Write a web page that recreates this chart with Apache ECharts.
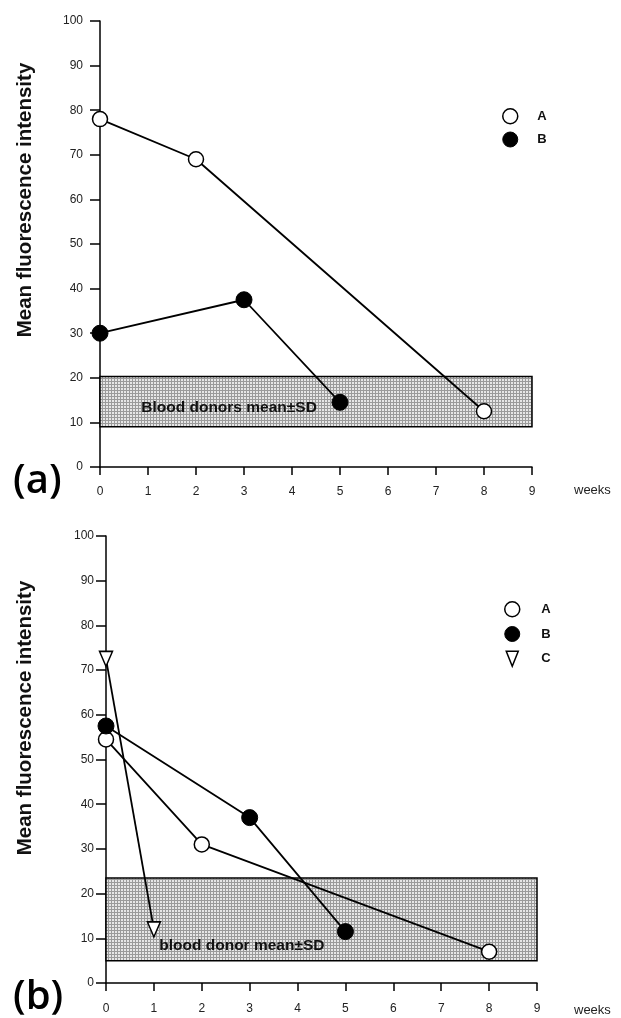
<!DOCTYPE html>
<html><head><meta charset="utf-8">
<script src="https://cdn.jsdelivr.net/npm/echarts@6/dist/echarts.min.js"></script>
<style>html,body{margin:0;padding:0;background:#fff}#c{width:621px;height:1018px}</style>
</head><body><div id="c"></div>
<script>
// ---- data ----
const weekTicks = [0,1,2,3,4,5,6,7,8,9];
const yTicks = [0,10,20,30,40,50,60,70,80,90,100];
const topA = [[0,78],[2,69],[8,12.5]];
const topB = [[0,30],[3,37.5],[5,14.5]];
const topBand = [9, 20.3];
const topBandLabel = 'Blood donors mean±SD';
const botA = [[0,54.5],[2,31],[8,7]];
const botB = [[0,57.5],[3,37],[5,11.5]];
const botC = [[0,72.5],[1,12]];
const botBand = [5, 23.5];
const botBandLabel = 'blood donor mean±SD';
const yTitle = 'Mean fluorescence intensity';
const xUnit = 'weeks';

// pattern for the shaded band
const pc = document.createElement('canvas');
pc.width = 3; pc.height = 3;
const pctx = pc.getContext('2d');
pctx.fillStyle = '#e6e6e6'; pctx.fillRect(0,0,3,3);
pctx.fillStyle = '#9a9a9a';
pctx.fillRect(0,0,3,1); pctx.fillRect(0,0,1,3);
const pattern = {image: pc, repeat: 'repeat'};

const tri = 'path://M0,0 L12,0 L6,15 Z';
const FONT = 'Liberation Sans, Arial, sans-serif';

function xAxis(gi, margin){
  return {type:'value', gridIndex:gi, min:0, max:9, interval:1,
    axisLine:{show:true, lineStyle:{color:'#000', width:1.5}},
    axisTick:{show:true, length:8, lineStyle:{color:'#000', width:1.5}},
    axisLabel:{margin:margin, color:'#222', fontSize:12, fontFamily:FONT},
    splitLine:{show:false}};
}
function yAxis(gi, margin){
  return {type:'value', gridIndex:gi, min:0, max:100, interval:10,
    axisLine:{show:true, lineStyle:{color:'#000', width:1.5}},
    axisTick:{show:true, length:10, lineStyle:{color:'#000', width:1.5}},
    axisLabel:{margin:margin, color:'#222', fontSize:12, fontFamily:FONT},
    splitLine:{show:false}};
}
const lineStyle = {color:'#000', width:1.8};
const styA = {symbol:'circle', symbolSize:15, itemStyle:{color:'#fff', borderColor:'#000', borderWidth:1.5}};
const styB = {symbol:'circle', symbolSize:16, itemStyle:{color:'#000', borderColor:'#000', borderWidth:1}};
const styC = {symbol:tri, symbolSize:[13,15], itemStyle:{color:'#fff', borderColor:'#000', borderWidth:1.5}};

function band(range, label, dist, off){
  return {silent:true,
    itemStyle:{color:pattern, borderColor:'#000', borderWidth:1.5},
    label:{show:true, position:'insideLeft', distance:dist, offset:off,
      formatter:label, color:'#111', fontWeight:'bold', fontSize:15.5, fontFamily:FONT},
    data:[[{xAxis:0, yAxis:range[0]},{xAxis:9, yAxis:range[1]}]]};
}

const chart = echarts.init(document.getElementById('c'), null, {renderer:'canvas'});
chart.setOption({
  animation:false,
  backgroundColor:'#fff',
  grid:[
    {left:100, top:21, width:432, height:446},
    {left:106, top:536, width:431, height:447}
  ],
  xAxis:[xAxis(0,19), xAxis(1,20)],
  yAxis:[yAxis(0,17), yAxis(1,12)],
  legend:[
    {orient:'vertical', left:497, top:103, itemWidth:44, itemHeight:15, itemGap:7,
     textStyle:{fontWeight:'bold', fontSize:13, color:'#111', fontFamily:FONT}, selectedMode:false,
     data:[
       {name:'A', icon:'circle', itemStyle:{color:'#fff', borderColor:'#000', borderWidth:1.5}},
       {name:'B', icon:'circle', itemStyle:{color:'#000', borderColor:'#000', borderWidth:1}}
     ]},
    {orient:'vertical', left:499, top:596, itemWidth:48, itemHeight:15, itemGap:8.5,
     textStyle:{fontWeight:'bold', fontSize:13, color:'#111', fontFamily:FONT}, selectedMode:false,
     data:[
       {name:'A', icon:'circle', itemStyle:{color:'#fff', borderColor:'#000', borderWidth:1.5}},
       {name:'B', icon:'circle', itemStyle:{color:'#000', borderColor:'#000', borderWidth:1}},
       {name:'C', icon:tri, itemStyle:{color:'#fff', borderColor:'#000', borderWidth:1.5}}
     ]}
  ],
  graphic:[
    {type:'text', left:13, top:462, style:{text:'(a)', font:'600 40px "Open Sans", sans-serif', fill:'#000'}},
    {type:'text', left:13, top:978, style:{text:'(b)', font:'600 40px "Open Sans", sans-serif', fill:'#000'}},
    {type:'text', x:25, y:200, rotation:Math.PI/2, style:{text:yTitle, font:'bold 20.5px '+FONT, fill:'#111', align:'center', verticalAlign:'middle'}},
    {type:'text', x:25, y:718, rotation:Math.PI/2, style:{text:yTitle, font:'bold 20.5px '+FONT, fill:'#111', align:'center', verticalAlign:'middle'}},
    {type:'text', left:574, top:484, style:{text:xUnit, font:'13px '+FONT, fill:'#222'}},
    {type:'text', left:574, top:1004, style:{text:xUnit, font:'13px '+FONT, fill:'#222'}}
  ],
  series:[
    Object.assign({type:'line', name:'A', xAxisIndex:0, yAxisIndex:0, data:topA, lineStyle, z:3,
      markArea:band(topBand, topBandLabel, 42, [0,6])}, styA),
    Object.assign({type:'line', name:'B', xAxisIndex:0, yAxisIndex:0, data:topB, lineStyle, z:3}, styB),
    Object.assign({type:'line', name:'A', xAxisIndex:1, yAxisIndex:1, data:botA, lineStyle, z:3,
      markArea:band(botBand, botBandLabel, 54, [0,26])}, styA),
    Object.assign({type:'line', name:'B', xAxisIndex:1, yAxisIndex:1, data:botB, lineStyle, z:3}, styB),
    Object.assign({type:'line', name:'C', xAxisIndex:1, yAxisIndex:1, data:botC, lineStyle, z:3}, styC)
  ]
});
</script></body></html>
